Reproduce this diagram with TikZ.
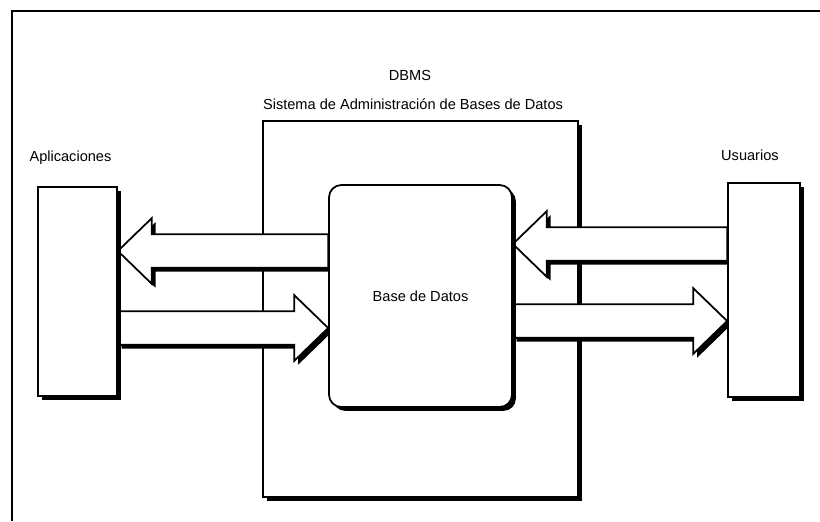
\documentclass[tikz,border=0pt]{standalone}
\usepackage{fontspec}
\setmainfont{Liberation Sans}
\usetikzlibrary{calc,positioning,shadows,backgrounds}

\tikzset{
  sombra/.style={drop shadow={shadow xshift=2.2pt,shadow yshift=-2.2pt,fill=black,opacity=1}},
  caja/.style={draw,line width=1pt,fill=white,inner sep=0pt,sombra},
  flechabox/.style={draw,line width=1pt,fill=white,line join=miter,sombra},
  etiqueta/.style={font=\fontsize{8.3}{10}\selectfont}
}

% block arrow: #1 tail, #2 tip, #3 height of the axis
\newcommand{\flecha}[3]{%
  \path[flechabox] let \p1=(#1), \p2=(#2), \p3=(0,#3),
      \n1={\x2-19.3*sign(\x2-\x1)} in
    (\x1,{\y3+9.6pt}) -- ({\n1*1pt},{\y3+9.6pt}) -- ({\n1*1pt},{\y3+18.7pt})
    -- (\x2,\y3) -- ({\n1*1pt},{\y3-18.7pt}) -- ({\n1*1pt},{\y3-9.6pt})
    -- (\x1,{\y3-9.6pt}) -- cycle;}

\begin{document}
\begin{tikzpicture}[x=0.02cm,y=-0.02cm,etiqueta]
  \useasboundingbox (0,0) rectangle (820,521);
  % frame
  \draw[line width=1.2pt] (820,11) -- (12,11) -- (12,521);
  % titles
  \node (dbms) at (410,75) {DBMS};
  \node (titulo) at (413,104) {Sistema de Administración de Bases de Datos};
  % boxes
  \node[caja,minimum width=1.58cm,minimum height=4.18cm] (app) at (77.5,291.5) {};
  \node[caja,minimum width=1.44cm,minimum height=4.28cm] (usr) at (764,290) {};
  \node[caja,rounded corners=7pt,minimum width=3.66cm,minimum height=4.44cm]
       (db) at (420.5,296) {Base de Datos};
  \node[above=0.3cm of app,xshift=-4pt] (lapp) {Aplicaciones};
  \node[above=0.3cm of usr,xshift=-8pt] (lusr) {Usuarios};
  % DBMS box and flows
  \begin{scope}[on background layer]
    \node[caja,minimum width=6.3cm,minimum height=7.52cm] (sgbd) at (420.5,309) {};
    \flecha{db.west}{app.east}{251}
    \flecha{app.east}{db.west}{328}
    \flecha{usr.west}{db.east}{244}
    \flecha{db.east}{usr.west}{321}
  \end{scope}
\end{tikzpicture}
\end{document}
